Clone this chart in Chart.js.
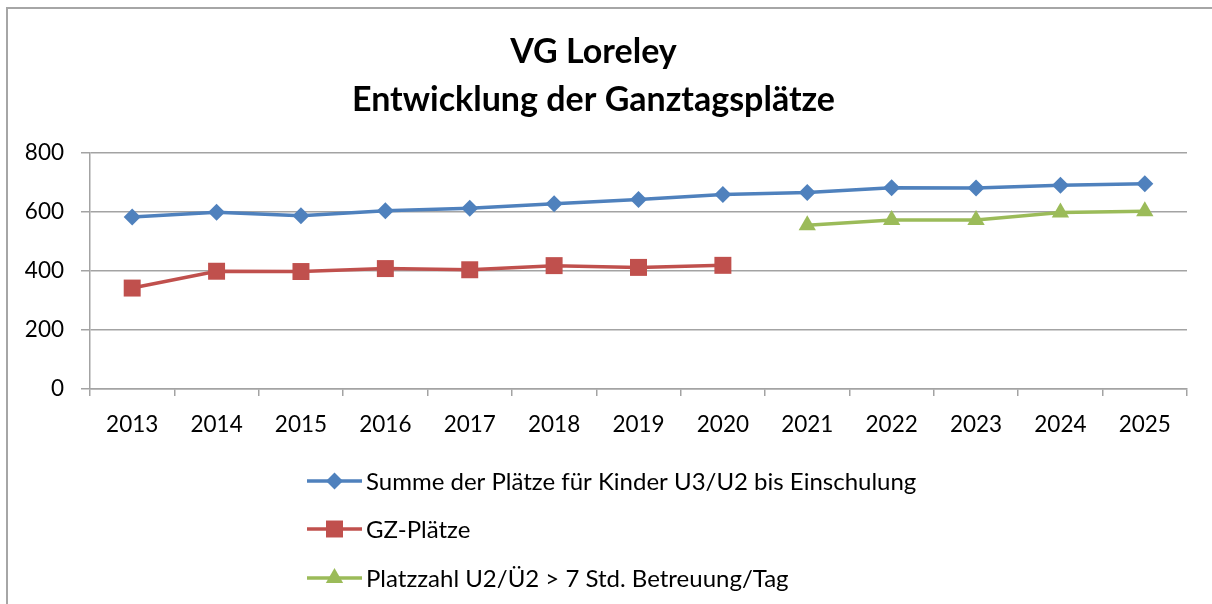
<!DOCTYPE html>
<html>
<head>
<meta charset="utf-8">
<title>VG Loreley - Entwicklung der Ganztagsplätze</title>
<script src="https://cdn.jsdelivr.net/npm/chart.js@4.4.0/dist/chart.umd.min.js"></script>
<style>
  html, body { margin: 0; padding: 0; background: #fff; }
  #wrap { width: 1212px; height: 604px; }
</style>
</head>
<body>
<div id="wrap"><canvas id="chart" width="1212" height="604"></canvas></div>
<script>
// Jahre auf der x-Achse
const years = ['2013', '2014', '2015', '2016', '2017', '2018', '2019', '2020', '2021', '2022', '2023', '2024', '2025'];

// Summe der Plätze für Kinder U3/U2 bis Einschulung
const summePlaetze = [583, 599, 587, 604, 612, 628, 642, 659, 666, 682, 681, 690, 695];

// GZ-Plätze (nur bis 2020)
const gzPlaetze = [342, 399, 398, 408, 404, 418, 412, 419, null, null, null, null, null];

// Platzzahl U2/Ü2 > 7 Std. Betreuung/Tag (ab 2021)
const platzzahlU2 = [null, null, null, null, null, null, null, null, 555, 573, 573, 598, 602];

// Beschriftung der y-Achse
const yTicks = [0, 200, 400, 600, 800];

const FONT = 'Lato, "Open Sans", sans-serif';
const GRID = '#a3a3a3';

// Rahmen oben und links, wie im Original
const framePlugin = {
    id: 'frame',
    beforeDraw(chart) {
        const ctx = chart.ctx;
        ctx.save();
        ctx.fillStyle = '#fff';
        ctx.fillRect(0, 0, chart.width, chart.height);
        ctx.strokeStyle = '#a6a6a6';
        ctx.lineWidth = 2;
        ctx.beginPath();
        ctx.moveTo(7, chart.height);
        ctx.lineTo(7, 8);
        ctx.lineTo(chart.width, 8);
        ctx.stroke();
        ctx.restore();
    }
};

// Legende untereinander, unter dem Diagramm
const legendPlugin = {
    id: 'stackedLegend',
    afterDraw(chart) {
        const ctx = chart.ctx;
        const rows = [481, 529, 578];
        const x0 = 307, x1 = 362;
        ctx.save();
        chart.data.datasets.forEach((ds, i) => {
            const y = rows[i];
            ctx.strokeStyle = ds.borderColor;
            ctx.lineWidth = ds.borderWidth;
            ctx.beginPath();
            ctx.moveTo(x0, y);
            ctx.lineTo(x1, y);
            ctx.stroke();
            ctx.fillStyle = ds.backgroundColor;
            Chart.helpers.drawPoint(ctx, {
                pointStyle: ds.pointStyle,
                radius: ds.pointRadius,
                rotation: 0,
                borderWidth: 0
            }, (x0 + x1) / 2, y);
            ctx.fillStyle = '#000';
            ctx.font = '24px ' + FONT;
            ctx.textBaseline = 'middle';
            ctx.textAlign = 'left';
            ctx.fillText(ds.label, x1 + 4, y + 1);
        });
        ctx.restore();
    }
};

const ctx = document.getElementById('chart').getContext('2d');
new Chart(ctx, {
    type: 'line',
    data: {
        labels: years,
        datasets: [{
            label: 'Summe der Plätze für Kinder U3/U2 bis Einschulung',
            data: summePlaetze,
            borderColor: '#4f81bd',
            backgroundColor: '#4f81bd',
            borderWidth: 3.5,
            pointStyle: 'rectRot',
            pointRadius: 8.5,
            pointBorderWidth: 0,
            tension: 0
        }, {
            label: 'GZ-Plätze',
            data: gzPlaetze,
            borderColor: '#c0504d',
            backgroundColor: '#c0504d',
            borderWidth: 3.5,
            pointStyle: 'rect',
            pointRadius: 12,
            pointBorderWidth: 0,
            tension: 0
        }, {
            label: 'Platzzahl U2/Ü2 > 7 Std. Betreuung/Tag',
            data: platzzahlU2,
            borderColor: '#9bbb59',
            backgroundColor: '#9bbb59',
            borderWidth: 3.5,
            pointStyle: 'triangle',
            pointRadius: 10,
            pointBorderWidth: 0,
            tension: 0
        }]
    },
    options: {
        responsive: false,
        animation: false,
        events: [],
        layout: {
            padding: { left: 0, right: 25, top: 0, bottom: 165 }
        },
        plugins: {
            legend: { display: false },
            tooltip: { enabled: false },
            title: {
                display: true,
                text: ['VG Loreley', 'Entwicklung der Ganztagsplätze'],
                color: '#000',
                font: { family: FONT, size: 34, weight: 'bold', lineHeight: 1.41 },
                padding: { top: 28, bottom: 29 }
            }
        },
        scales: {
            x: {
                offset: true,
                afterFit(scale) { scale.height = 50; },
                grid: {
                    offset: true,
                    drawOnChartArea: false,
                    tickLength: 7,
                    color: GRID,
                    lineWidth: 1.5
                },
                border: { color: GRID, width: 1.5 },
                ticks: {
                    color: '#000',
                    padding: 15,
                    maxRotation: 0,
                    autoSkip: false,
                    font: { family: FONT, size: 22.5 }
                }
            },
            y: {
                min: 0,
                max: 800,
                afterFit(scale) { scale.width = 90; },
                afterBuildTicks(scale) { scale.ticks = yTicks.map(v => ({ value: v })); },
                grid: {
                    tickLength: 9,
                    color: GRID,
                    lineWidth: 1.5
                },
                border: { color: GRID, width: 1.5 },
                ticks: {
                    color: '#000',
                    padding: 17,
                    font: { family: FONT, size: 22.5 }
                }
            }
        }
    },
    plugins: [framePlugin, legendPlugin]
});
</script>
</body>
</html>
